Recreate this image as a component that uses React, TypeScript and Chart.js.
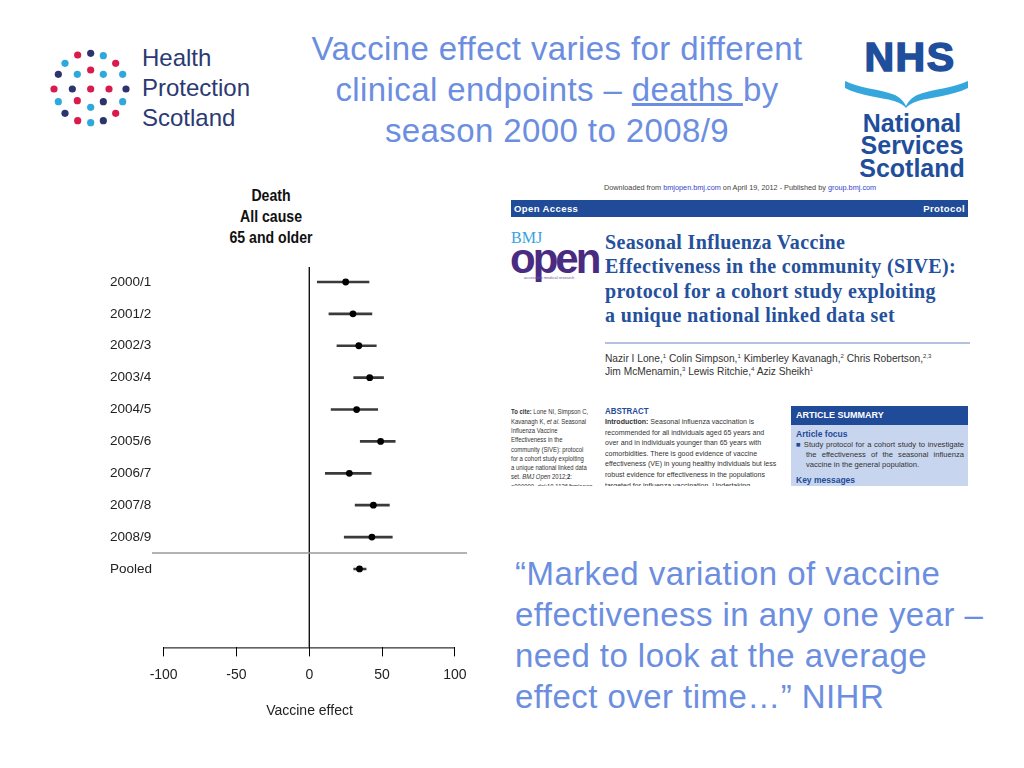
import React, { useEffect, useRef } from "react";
import { Chart, registerables } from "chart.js";

Chart.register(...registerables);

// ---------- DATA ----------
const seasons = ["2000/1", "2001/2", "2002/3", "2003/4", "2004/5", "2005/6", "2006/7", "2007/8", "2008/9", "Pooled"];
const estimate = [25, 30, 34, 41.5, 32.5, 49, 27.5, 44, 43, 34.5];
const lowerCI = [5.5, 13.5, 19, 30.5, 15, 35, 11, 31.5, 24, 30.5];
const upperCI = [41, 43, 46, 51, 47, 59, 42.5, 55, 57, 39];
const xTicks = [-100, -50, 0, 50, 100];
const plotTitle = ["Death", "All cause", "65 and older"];
const xAxisTitle = "Vaccine effect";

const SANS = "'Liberation Sans', Arial, sans-serif";
const SERIF = "'Liberation Serif', 'Times New Roman', serif";
const SLIDE_BLUE = "rgb(108,142,224)";
const BMJ_BLUE = "#1f4b99";

const forestLines = {
  id: "forestLines",
  beforeDatasetsDraw(chart: any) {
    const { ctx, chartArea, scales } = chart;
    const x = scales.x;
    const y = scales.y;
    ctx.save();
    const x0 = x.getPixelForValue(0);
    ctx.strokeStyle = "#000";
    ctx.lineWidth = 1.3;
    ctx.beginPath();
    ctx.moveTo(x0, chartArea.top);
    ctx.lineTo(x0, chartArea.bottom);
    ctx.stroke();
    const ys = y.getPixelForValue(seasons.length - 1.5);
    ctx.strokeStyle = "#9a9a9a";
    ctx.lineWidth = 1.6;
    ctx.beginPath();
    ctx.moveTo(chartArea.left, ys);
    ctx.lineTo(chartArea.right, ys);
    ctx.stroke();
    ctx.strokeStyle = "#000";
    ctx.lineWidth = 1;
    ctx.beginPath();
    ctx.moveTo(x.getPixelForValue(xTicks[0]), chartArea.bottom + 0.5);
    ctx.lineTo(x.getPixelForValue(xTicks[xTicks.length - 1]), chartArea.bottom + 0.5);
    ctx.stroke();
    ctx.restore();
  },
};

function ForestPlot() {
  const ref = useRef<HTMLCanvasElement | null>(null);
  useEffect(() => {
    if (!ref.current) return;
    const chart = new Chart(ref.current, {
      type: "bar",
      data: {
        datasets: [
          {
            type: "scatter" as any,
            data: seasons.map((_, i) => ({ x: estimate[i], y: i })),
            pointRadius: 3.4,
            pointBackgroundColor: "#000",
            pointBorderWidth: 0,
            order: 0,
          } as any,
          {
            type: "bar",
            data: seasons.map((_, i) => ({ x: [lowerCI[i], upperCI[i]], y: i })) as any,
            backgroundColor: "#3a3a3a",
            borderWidth: 0,
            barThickness: 2,
            order: 1,
          },
        ],
      },
      options: {
        indexAxis: "y",
        responsive: false,
        animation: false,
        layout: { padding: { top: 13, left: 0, right: 14, bottom: 0 } },
        plugins: { legend: { display: false }, tooltip: { enabled: false }, title: { display: false } },
        scales: {
          x: {
            type: "linear",
            min: -108,
            max: 108.3,
            offset: false,
            afterBuildTicks: (scale: any) => {
              scale.ticks = xTicks.map((v) => ({ value: v }));
            },
            grid: { display: true, drawOnChartArea: false, drawTicks: true, tickLength: 9, color: "#000", lineWidth: 1 },
            border: { display: false },
            ticks: {
              autoSkip: false,
              maxRotation: 0,
              padding: 10,
              color: "#222",
              font: { family: SANS, size: 14 },
            },
            title: {
              display: true,
              text: xAxisTitle,
              color: "#222",
              font: { family: SANS, size: 14 },
              padding: { top: 10, bottom: 2 },
            },
          },
          y: {
            type: "linear",
            reverse: true,
            min: -0.47,
            max: 11.46,
            offset: false,
            afterBuildTicks: (scale: any) => {
              scale.ticks = seasons.map((_, i) => ({ value: i }));
            },
            afterFit: (scale: any) => {
              scale.width = 42;
            },
            grid: { display: false },
            border: { display: false },
            ticks: {
              autoSkip: false,
              crossAlign: "far",
              color: "#222",
              font: { family: SANS, size: 13.5 },
              callback: (v: any) => seasons[v as number] ?? "",
            },
          },
        },
      } as any,
      plugins: [forestLines],
    });
    return () => chart.destroy();
  }, []);
  return (
    <canvas
      ref={ref}
      width={371}
      height={468}
      style={{ position: "absolute", left: 110, top: 254, width: 371, height: 468 }}
    />
  );
}

function HPSLogo() {
  const R = "#d81b4a", N = "#2c3470", C = "#2fa8dc";
  const dots: [number, number, string][] = [
    [113, 75, R], [152, 70, N], [190, 77, C],
    [75, 100, C], [227, 100, R],
    [152, 120, R],
    [55, 133, N], [112, 133, C], [190, 133, C], [248, 133, C],
    [42, 177, R], [97, 177, N], [152, 177, R], [207, 177, R], [258, 177, N],
    [55, 215, C], [112, 212, R], [190, 215, N], [248, 215, C],
    [152, 232, C],
    [75, 250, N], [227, 250, R],
    [113, 272, R], [152, 278, C], [190, 272, N],
  ];
  return (
    <>
      <svg style={{ position: "absolute", left: 40, top: 30 }} width={100} height={110}>
        {dots.map(([zx, zy, c], i) => (
          <circle key={i} cx={zx / 3} cy={zy / 3} r={3.6} fill={c} />
        ))}
      </svg>
      <div
        style={{
          position: "absolute",
          left: 142,
          top: 43.4,
          fontFamily: SANS,
          fontSize: 24,
          lineHeight: "30px",
          color: "#2b3a72",
          whiteSpace: "nowrap",
        }}
      >
        Health
        <br />
        Protection
        <br />
        Scotland
      </div>
    </>
  );
}

function NHSLogo() {
  const blue = "#1f4f9c";
  return (
    <>
      <div
        style={{
          position: "absolute",
          left: 840,
          width: 140,
          top: 36,
          textAlign: "center",
          fontFamily: SANS,
          fontWeight: "bold",
          fontSize: 41,
          lineHeight: "42px",
          letterSpacing: 1.5,
          color: blue,
          WebkitTextStroke: `1.6px ${blue}`,
        }}
      >
        NHS
      </div>
      <svg style={{ position: "absolute", left: 0, top: 0, overflow: "visible" }} width={1} height={1}>
        <path
          d="M845,81 C858,88 880,89 895,95 C901,98 904,102 906,106 C908,102 911,98 917,95 C932,89 954,88 968,81 L968,88 C952,96 932,97 918,101 C912,103 908,105 906,108 C904,105 900,103 894,101 C880,97 860,96 845,88 Z"
          fill="#35a7dc"
        />
      </svg>
      <div
        style={{
          position: "absolute",
          left: 846,
          width: 132,
          top: 111.8,
          textAlign: "center",
          fontFamily: SANS,
          fontWeight: "bold",
          fontSize: 25,
          lineHeight: "22.5px",
          color: blue,
        }}
      >
        National
        <br />
        Services
        <br />
        Scotland
      </div>
    </>
  );
}

function BMJPaper() {
  const sup = { fontSize: 6, verticalAlign: "super", lineHeight: 0 } as React.CSSProperties;
  const justLine = { textAlign: "justify", textAlignLast: "justify" } as React.CSSProperties;
  return (
    <div style={{ position: "absolute", left: 500, top: 180, width: 470, height: 306, overflow: "hidden", background: "#fff" }}>
      <div style={{ position: "absolute", left: 104, top: 3, fontFamily: SANS, fontSize: 7.3, color: "#444", whiteSpace: "nowrap" }}>
        Downloaded from <span style={{ color: "#3344cc" }}>bmjopen.bmj.com</span> on April 19, 2012 - Published by{" "}
        <span style={{ color: "#3344cc" }}>group.bmj.com</span>
      </div>
      <div style={{ position: "absolute", left: 11, top: 20, width: 457, height: 17, background: BMJ_BLUE }}>
        <span style={{ position: "absolute", left: 3, top: 0, lineHeight: "17px", fontFamily: SANS, fontWeight: "bold", fontSize: 9.5, color: "#fff", letterSpacing: 0.4 }}>
          Open Access
        </span>
        <span style={{ position: "absolute", right: 3, top: 0, lineHeight: "17px", fontFamily: SANS, fontWeight: "bold", fontSize: 9.5, color: "#fff", letterSpacing: 0.4 }}>
          Protocol
        </span>
      </div>
      <div style={{ position: "absolute", left: 11, top: 50, fontFamily: SERIF, fontSize: 16, lineHeight: "16px", color: "#36a3dd" }}>BMJ</div>
      <div style={{ position: "absolute", left: 10, top: 58, fontFamily: SANS, fontWeight: "bold", fontSize: 42, lineHeight: "42px", letterSpacing: -3, color: "#4a2b82" }}>
        open
      </div>
      <div style={{ position: "absolute", left: 24, top: 95, fontFamily: SANS, fontSize: 4, color: "#6a55a0", whiteSpace: "nowrap" }}>
        accessible medical research
      </div>
      <div
        style={{
          position: "absolute",
          left: 105,
          top: 49.7,
          fontFamily: SERIF,
          fontWeight: "bold",
          fontSize: 20,
          lineHeight: "24.5px",
          letterSpacing: 0.35,
          color: "#24509c",
          whiteSpace: "nowrap",
        }}
      >
        Seasonal Influenza Vaccine
        <br />
        Effectiveness in the community (SIVE):
        <br />
        protocol for a cohort study exploiting
        <br />a unique national linked data set
      </div>
      <div style={{ position: "absolute", left: 105, top: 162, width: 365, height: 2, background: "#b4c2e0" }} />
      <div style={{ position: "absolute", left: 105, top: 171.5, fontFamily: SANS, fontSize: 10.2, lineHeight: "13px", color: "#333", whiteSpace: "nowrap" }}>
        Nazir I Lone,<span style={sup}>1</span> Colin Simpson,<span style={sup}>1</span> Kimberley Kavanagh,<span style={sup}>2</span> Chris Robertson,
        <span style={sup}>2,3</span>
        <br />
        Jim McMenamin,<span style={sup}>3</span> Lewis Ritchie,<span style={sup}>4</span> Aziz Sheikh<span style={sup}>1</span>
      </div>
      <div
        style={{
          position: "absolute",
          left: 11,
          top: 227.4,
          fontFamily: SANS,
          fontSize: 7,
          lineHeight: "9.3px",
          color: "#333",
          whiteSpace: "nowrap",
          transform: "scaleX(0.85)",
          transformOrigin: "left top",
        }}
      >
        <b>To cite:</b> Lone NI, Simpson C,
        <br />
        Kavanagh K, <i>et al</i>. Seasonal
        <br />
        Influenza Vaccine
        <br />
        Effectiveness in the
        <br />
        community (SIVE): protocol
        <br />
        for a cohort study exploiting
        <br />
        a unique national linked data
        <br />
        set. <i>BMJ Open</i> 2012;<b>2</b>:
        <br />
        e000000. doi:10.1136/bmjopen
      </div>
      <div
        style={{
          position: "absolute",
          left: 105,
          top: 225.5,
          fontFamily: SANS,
          fontSize: 8,
          lineHeight: "10.6px",
          color: "#333",
          whiteSpace: "nowrap",
          transform: "scaleX(0.88)",
          transformOrigin: "left top",
        }}
      >
        <b style={{ color: BMJ_BLUE, fontSize: 9 }}>ABSTRACT</b>
        <br />
        <b>Introduction:</b> Seasonal influenza vaccination is
        <br />
        recommended for all individuals aged 65 years and
        <br />
        over and in individuals younger than 65 years with
        <br />
        comorbidities. There is good evidence of vaccine
        <br />
        effectiveness (VE) in young healthy individuals but less
        <br />
        robust evidence for effectiveness in the populations
        <br />
        targeted for influenza vaccination. Undertaking
      </div>
      <div style={{ position: "absolute", left: 291, top: 226, width: 177, height: 19, background: BMJ_BLUE }}>
        <span style={{ position: "absolute", left: 5, top: 0, lineHeight: "19px", fontFamily: SANS, fontWeight: "bold", fontSize: 9, color: "#fff" }}>
          ARTICLE SUMMARY
        </span>
      </div>
      <div style={{ position: "absolute", left: 291, top: 245, width: 177, height: 70, background: "#c8d5ee" }}>
        <div style={{ position: "absolute", left: 5, top: 4, fontFamily: SANS, fontWeight: "bold", fontSize: 8.5, color: BMJ_BLUE }}>Article focus</div>
        <div style={{ position: "absolute", left: 5, top: 14.5, width: 168, fontFamily: SANS, fontSize: 7.6, lineHeight: "10.3px", color: "#333" }}>
          <div style={justLine}>
            <span style={{ color: BMJ_BLUE }}>■</span> Study protocol for a cohort study to investigate
          </div>
          <div style={{ ...justLine, paddingLeft: 10 }}>the effectiveness of the seasonal influenza</div>
          <div style={{ paddingLeft: 10 }}>vaccine in the general population.</div>
        </div>
        <div style={{ position: "absolute", left: 5, top: 50, fontFamily: SANS, fontWeight: "bold", fontSize: 8.5, color: BMJ_BLUE }}>Key messages</div>
      </div>
    </div>
  );
}

export default function App() {
  useEffect(() => {
    document.body.style.margin = "0";
  }, []);
  return (
    <div style={{ position: "absolute", left: 0, top: 0, width: 1024, height: 768, background: "#fff", overflow: "hidden" }}>
      <HPSLogo />
      <NHSLogo />
      <div
        style={{
          position: "absolute",
          left: 270,
          width: 574,
          top: 27.5,
          textAlign: "center",
          fontFamily: SANS,
          fontSize: 33,
          lineHeight: "41px",
          letterSpacing: 0.4,
          color: SLIDE_BLUE,
        }}
      >
        Vaccine effect varies for different
        <br />
        clinical endpoints – <span style={{ textDecoration: "underline" }}>deaths </span>by
        <br />
        season 2000 to 2008/9
      </div>
      <div
        style={{
          position: "absolute",
          left: 201,
          width: 140,
          top: 184.5,
          textAlign: "center",
          fontFamily: SANS,
          fontWeight: "bold",
          fontSize: 17,
          lineHeight: "21px",
          color: "#111",
          transform: "scaleX(0.83)",
          transformOrigin: "center top",
          whiteSpace: "nowrap",
        }}
      >
        {plotTitle.map((t, i) => (
          <div key={i}>{t}</div>
        ))}
      </div>
      <ForestPlot />
      <BMJPaper />
      <div
        style={{
          position: "absolute",
          left: 515,
          top: 552.5,
          fontFamily: SANS,
          fontSize: 33,
          lineHeight: "41px",
          letterSpacing: 0.45,
          color: SLIDE_BLUE,
          whiteSpace: "nowrap",
        }}
      >
        “Marked variation of vaccine
        <br />
        effectiveness in any one year –
        <br />
        need to look at the average
        <br />
        effect over time…” NIHR
      </div>
    </div>
  );
}
